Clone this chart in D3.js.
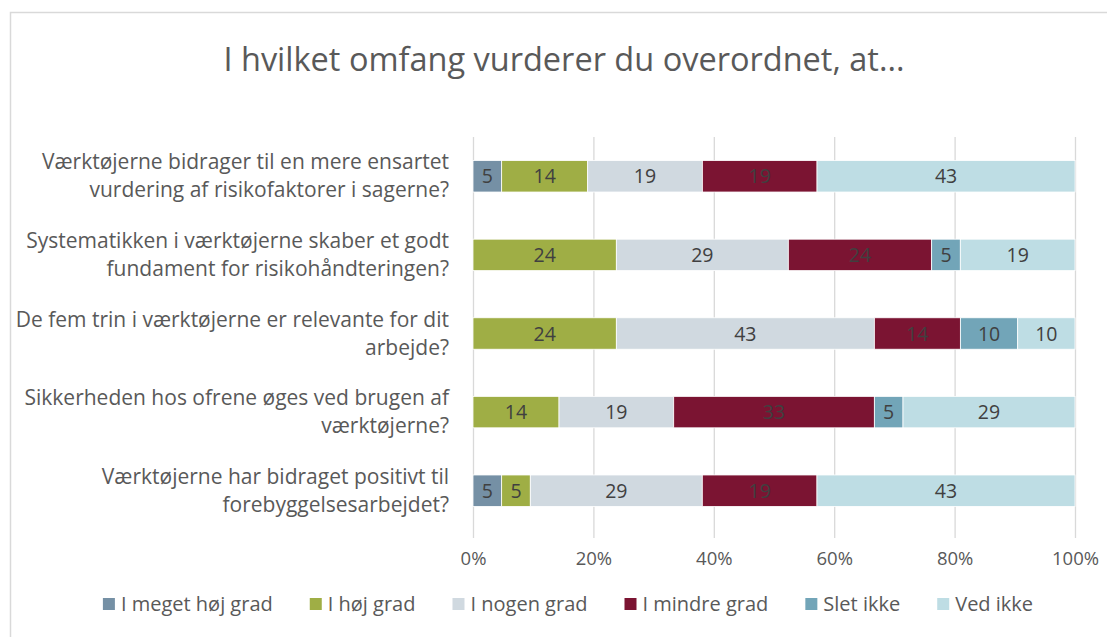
<!DOCTYPE html>
<html>
<head>
<meta charset="utf-8">
<script src="https://cdn.jsdelivr.net/npm/d3@7"></script>
<style>
  html, body { margin: 0; padding: 0; background: #fff; }
  svg { display: block; font-family: "Open Sans", "Noto Sans", sans-serif; }
</style>
</head>
<body>
<svg id="chart" width="1107" height="637"></svg>
<script>
// question texts, line breaks as in the original
const questions = [
  "Værktøjerne bidrager til en mere ensartet\nvurdering af risikofaktorer i sagerne?",
  "Systematikken i værktøjerne skaber et godt\nfundament for risikohåndteringen?",
  "De fem trin i værktøjerne er relevante for dit\narbejde?",
  "Sikkerheden hos ofrene øges ved brugen af\nværktøjerne?",
  "Værktøjerne har bidraget positivt til\nforebyggelsesarbejdet?"
];

const seriesNames = ["I meget høj grad", "I høj grad", "I nogen grad", "I mindre grad", "Slet ikke", "Ved ikke"];
const seriesColors = ["#7590a5", "#9fae45", "#d0d9e0", "#7b1432", "#72a5b8", "#bedde4"];

// percent of answers per question
const megetHoj  = [4.76, 0, 0, 0, 4.76];
const hoj       = [14.29, 23.81, 23.81, 14.29, 4.76];
const nogen     = [19.05, 28.57, 42.86, 19.05, 28.57];
const mindre    = [19.05, 23.81, 14.29, 33.33, 19.05];
const sletIkke  = [0, 4.76, 9.52, 4.76, 0];
const vedIkke   = [42.86, 19.05, 9.52, 28.57, 42.86];

const xTicks = [0, 20, 40, 60, 80, 100];

const allValues = [megetHoj, hoj, nogen, mindre, sletIkke, vedIkke];
const rows = questions.map((q, i) => {
  const r = { q: q };
  seriesNames.forEach((s, j) => { r[s] = allValues[j][i]; });
  return r;
});

const svg = d3.select("#chart");
const textColor = "#595959";
const font = "'Open Sans', 'Noto Sans', sans-serif";

// outer frame
svg.append("rect")
  .attr("x", 10.5).attr("y", 12.5)
  .attr("width", 1120).attr("height", 660)
  .attr("fill", "none").attr("stroke", "#d9d9d9").attr("stroke-width", 1.5);

svg.append("text")
  .attr("x", 564).attr("y", 71)
  .attr("text-anchor", "middle")
  .attr("font-size", 32.5)
  .attr("fill", textColor)
  .text("I hvilket omfang vurderer du overordnet, at...");

const x = d3.scaleLinear().domain([0, 100]).range([473, 1075]);
const y = d3.scaleBand().domain(questions).range([137, 530]).paddingInner(0.6).paddingOuter(0.3);

// gridlines
svg.append("g")
  .selectAll("line")
  .data(xTicks)
  .join("line")
  .attr("x1", d => x(d) + 0.5).attr("x2", d => x(d) + 0.5)
  .attr("y1", 137).attr("y2", 538)
  .attr("stroke", "#d9d9d9").attr("stroke-width", 1.3);

const xAxis = svg.append("g")
  .attr("transform", "translate(0,549)")
  .call(d3.axisBottom(x).tickValues(xTicks).tickFormat(d => d + "%").tickSize(0));
xAxis.select(".domain").remove();
xAxis.selectAll("text")
  .attr("font-size", 18.5)
  .attr("font-family", font)
  .attr("fill", textColor)
  .attr("dy", "0.71em");

const stacked = d3.stack().keys(seriesNames)(rows);

const layers = svg.append("g")
  .selectAll("g")
  .data(stacked)
  .join("g")
  .attr("fill", (d, i) => seriesColors[i]);

layers.selectAll("rect")
  .data(d => d.filter(p => p[1] - p[0] > 0))
  .join("rect")
  .attr("x", d => x(d[0]))
  .attr("y", d => y(d.data.q))
  .attr("width", d => x(d[1]) - x(d[0]))
  .attr("height", y.bandwidth())
  .attr("stroke", "#ffffff")
  .attr("stroke-width", 0.8);

layers.selectAll("text")
  .data(d => d.filter(p => p[1] - p[0] > 0))
  .join("text")
  .attr("x", d => (x(d[0]) + x(d[1])) / 2)
  .attr("y", d => y(d.data.q) + y.bandwidth() / 2)
  .attr("dy", "0.36em")
  .attr("text-anchor", "middle")
  .attr("font-size", 19.5)
  .attr("fill", "#404040")
  .text(d => Math.round(d[1] - d[0]));

// question labels
const qLabels = svg.append("g")
  .selectAll("text")
  .data(questions)
  .join("text")
  .attr("text-anchor", "end")
  .attr("font-size", 21)
  .attr("fill", textColor)
  .attr("y", d => y(d) + y.bandwidth() / 2);
qLabels.each(function(d) {
  const lines = d.split("\n");
  d3.select(this).selectAll("tspan")
    .data(lines)
    .join("tspan")
    .attr("x", 449)
    .attr("dy", (l, i) => i === 0 ? (-(lines.length - 1) * 14 + 7) + "px" : "28px")
    .text(l => l);
});

// legend
const legend = svg.append("g");
const legendGap = 37;
let lx = 0;
seriesNames.forEach((s, i) => {
  const item = legend.append("g").attr("transform", "translate(" + lx + ",0)");
  item.append("rect").attr("x", 0).attr("y", -6).attr("width", 12).attr("height", 12).attr("fill", seriesColors[i]);
  const t = item.append("text")
    .attr("x", 18).attr("y", 0).attr("dy", "0.35em")
    .attr("font-size", 20).attr("fill", textColor)
    .text(s);
  lx += 18 + t.node().getComputedTextLength() + legendGap;
});
const legendWidth = lx - legendGap;
legend.attr("transform", "translate(" + (568 - legendWidth / 2) + ",604)");
</script>
</body>
</html>
